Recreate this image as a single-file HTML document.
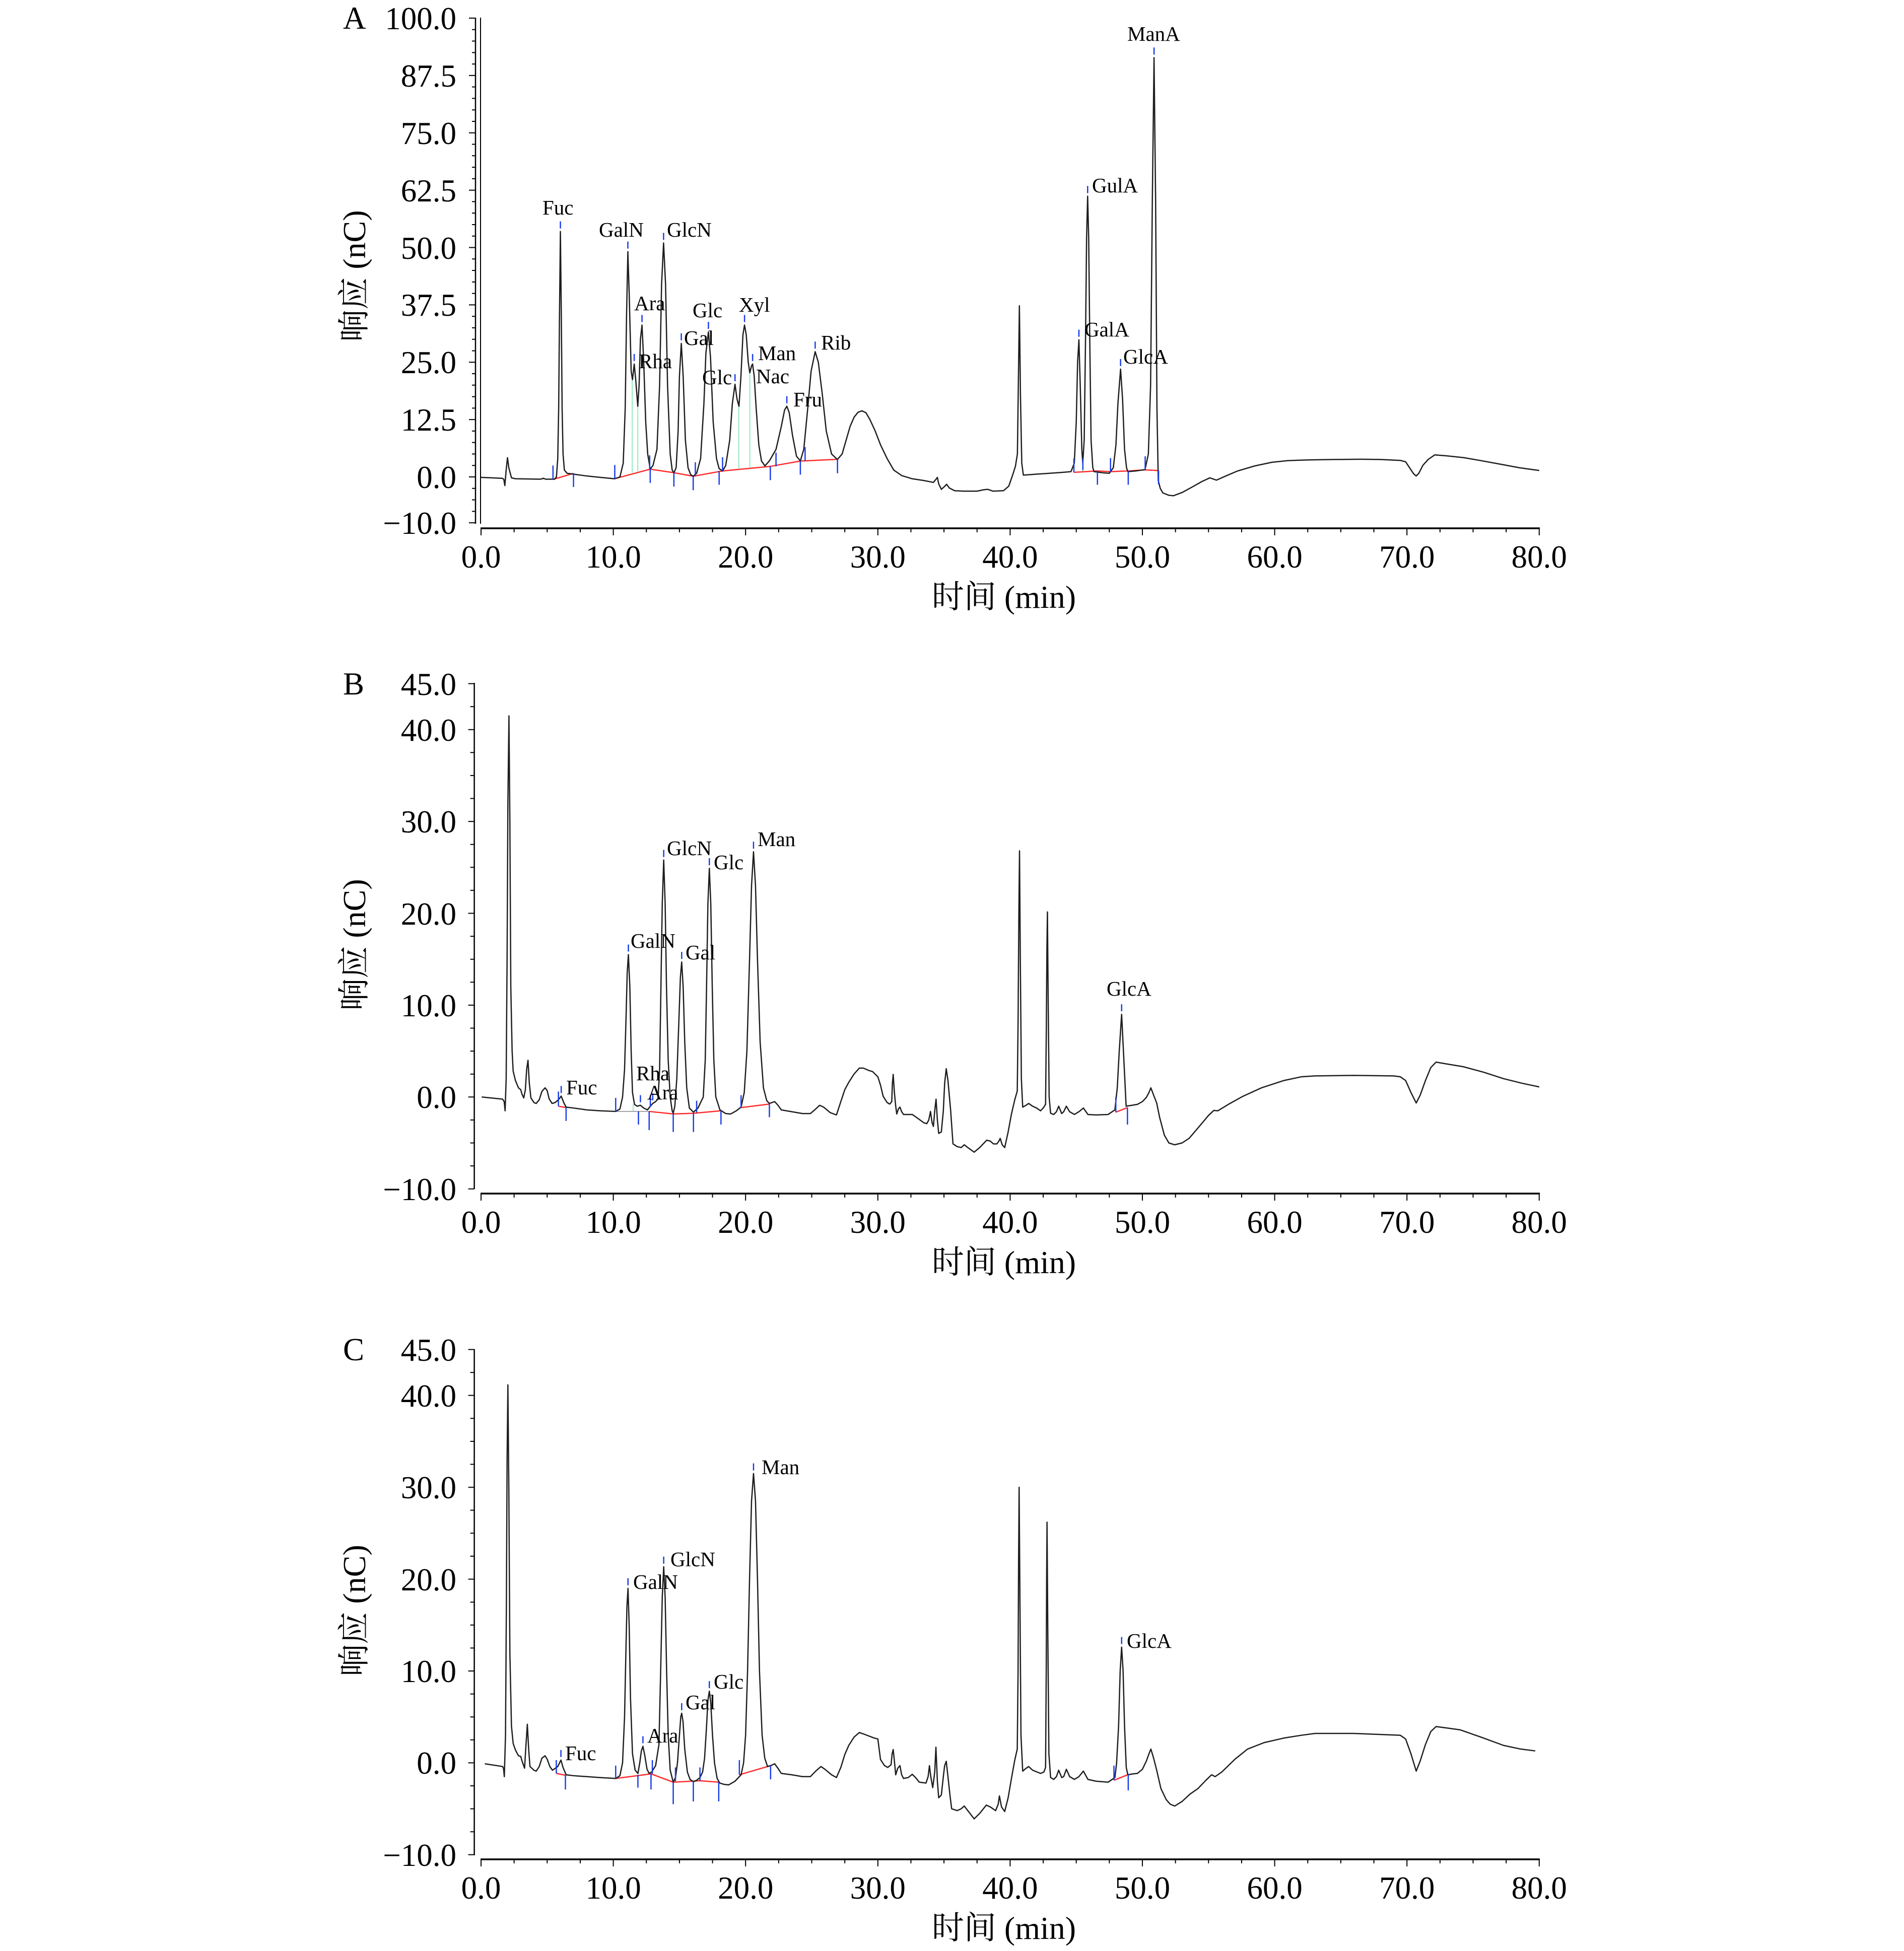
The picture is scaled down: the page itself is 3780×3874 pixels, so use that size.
<!DOCTYPE html>
<html><head><meta charset="utf-8"><style>
html,body{margin:0;padding:0;background:#fff;}
svg{display:block;}
text{font-family:"Liberation Serif","Noto Serif CJK SC",serif;fill:#000;}
.tk{font-size:63px;}
.lb{font-size:41px;}
.ttl{font-size:64px;}
.tr{fill:none;stroke:#1e1e1e;stroke-width:2.5;stroke-linejoin:round;}
.ax{fill:none;stroke:#000;stroke-width:2.5;}
.rd{fill:none;stroke:#ff2a2a;stroke-width:2.5;}
.bl{fill:none;stroke:#1a3ce8;stroke-width:2.5;}
.gr{fill:none;stroke:#86eabb;stroke-width:1.8;}
</style></head><body>
<svg width="3780" height="3874" viewBox="0 0 3780 3874" xmlns="http://www.w3.org/2000/svg">
<rect width="3780" height="3874" fill="#fff"/>

<!-- ================= PANEL A ================= -->
<line x1="944" y1="35" x2="944" y2="1040" class="ax"/>
<line x1="954" y1="35" x2="954" y2="1040" class="ax" style="stroke-width:2"/>
<g transform="translate(944,947) scale(1,-9.11)">
<path class="ax" vector-effect="non-scaling-stroke" style="stroke-width:2" d="M0 100H-13M0 87.5H-13M0 75H-13M0 62.5H-13M0 50H-13M0 37.5H-13M0 25H-13M0 12.5H-13M0 0H-13M0 -10H-13
M0 97.5H-7M0 95H-7M0 92.5H-7M0 90H-7M0 85H-7M0 82.5H-7M0 80H-7M0 77.5H-7M0 72.5H-7M0 70H-7M0 67.5H-7M0 65H-7M0 60H-7M0 57.5H-7M0 55H-7M0 52.5H-7M0 47.5H-7M0 45H-7M0 42.5H-7M0 40H-7M0 35H-7M0 32.5H-7M0 30H-7M0 27.5H-7M0 22.5H-7M0 20H-7M0 17.5H-7M0 15H-7M0 10H-7M0 7.5H-7M0 5H-7M0 2.5H-7M0 -2.5H-7M0 -5H-7M0 -7.5H-7"/>
</g>
<line x1="954" y1="1049" x2="3057" y2="1049" class="ax" style="stroke-width:3.5"/>
<g transform="translate(955,1049) scale(26.26,1)">
<path class="ax" vector-effect="non-scaling-stroke" style="stroke-width:2" d="M0 0V14M2.5 0V8M5 0V8M7.5 0V8M10 0V14M12.5 0V8M15 0V8M17.5 0V8M20 0V14M22.5 0V8M25 0V8M27.5 0V8M30 0V14M32.5 0V8M35 0V8M37.5 0V8M40 0V14M42.5 0V8M45 0V8M47.5 0V8M50 0V14M52.5 0V8M55 0V8M57.5 0V8M60 0V14M62.5 0V8M65 0V8M67.5 0V8M70 0V14M72.5 0V8M75 0V8M77.5 0V8M80 0V14"/>
</g>
<g class="tk" text-anchor="end">
<text x="906" y="58">100.0</text><text x="906" y="172">87.5</text><text x="906" y="286">75.0</text><text x="906" y="400">62.5</text><text x="906" y="514">50.0</text><text x="906" y="627">37.5</text><text x="906" y="741">25.0</text><text x="906" y="855">12.5</text><text x="906" y="969">0.0</text><text x="906" y="1060">−10.0</text>
</g>
<g class="tk" text-anchor="middle">
<text x="955" y="1127">0.0</text><text x="1217.6" y="1127">10.0</text><text x="1480.2" y="1127">20.0</text><text x="1742.8" y="1127">30.0</text><text x="2005.4" y="1127">40.0</text><text x="2268" y="1127">50.0</text><text x="2530.6" y="1127">60.0</text><text x="2793.2" y="1127">70.0</text><text x="3055.8" y="1127">80.0</text>
</g>
<text class="tk" x="681" y="57">A</text>
<text class="ttl" x="1993" y="1207" text-anchor="middle">时间 (min)</text>
<text class="ttl" transform="translate(725,548) rotate(-90)" text-anchor="middle">响应 (nC)</text>

<g transform="translate(955,947) scale(26.26,-9.11)">
<g class="gr">
<line vector-effect="non-scaling-stroke" x1="11.43" y1="21.2" x2="11.43" y2="0.9"/>
<line vector-effect="non-scaling-stroke" x1="11.85" y1="15.4" x2="11.85" y2="1.2"/>
<line vector-effect="non-scaling-stroke" x1="19.49" y1="15.4" x2="19.49" y2="1.8"/>
<line vector-effect="non-scaling-stroke" x1="20.32" y1="22.7" x2="20.32" y2="2.0"/>
<line vector-effect="non-scaling-stroke" x1="45.49" y1="3.1" x2="45.49" y2="1.1"/>
</g>
<polyline class="rd" vector-effect="non-scaling-stroke" points="5.44,-0.55 6.99,0.77"/>
<polyline class="rd" vector-effect="non-scaling-stroke" points="10.11,-0.38 12.79,1.69 14.58,0.92 16.04,0.15 18.26,1.3 21.87,2.3 24.14,3.46 26.95,3.84"/>
<polyline class="rd" vector-effect="non-scaling-stroke" points="44.82,1.0 46.6,1.3 47.59,1.15 48.93,1.3 50.21,1.54 51.22,1.38"/>
<polyline class="tr" vector-effect="non-scaling-stroke" points="0,-0.1 1.6,-0.3 1.72,-0.5 1.8,-1.9 1.9,1.5 2.0,4.2 2.1,2.0 2.3,-0.2 2.6,-0.4 4.5,-0.5 4.7,-0.3 4.9,-0.5 5.55,-0.5 5.7,0 5.8,4 5.87,15 5.93,35 6.0,53.5 6.07,35 6.13,15 6.2,5 6.3,1.5 6.5,0.8 7,0.6 8,0.2 9,-0.1 10.1,-0.4 10.5,0 10.75,3 10.9,15 11.0,35 11.1,49.1 11.2,40 11.35,23 11.45,21.2 11.58,24.6 11.7,21 11.85,15.4 11.95,20 12.05,30 12.17,33.1 12.3,25 12.45,12 12.6,5 12.79,1.7 13.0,2.5 13.3,6 13.5,20 13.65,42 13.8,51 13.95,42 14.1,20 14.3,5 14.45,1.5 14.58,0.9 14.75,2 14.9,10 15.0,22 15.14,29.1 15.28,22 15.45,8 15.65,2 15.85,0.5 16.04,0.15 16.3,0.8 16.6,4 16.85,16 17.0,27 17.19,31.6 17.35,26 17.55,12 17.8,4 18.0,1.8 18.26,1.3 18.5,2.5 18.8,8 19.0,16 19.2,20.2 19.35,17 19.5,15.4 19.65,22 19.8,31 19.92,33.1 20.05,31 20.2,25 20.32,22.7 20.45,24.2 20.53,24.6 20.65,22 20.8,15 21.0,7 21.2,3.5 21.46,2.4 21.8,3.5 22.3,6 22.7,11 22.95,14.6 23.12,15.4 23.3,14 23.55,9 23.85,4.5 24.14,3.5 24.4,6 24.7,15 24.95,23 25.26,27.3 25.5,25 25.8,18 26.1,10 26.5,5 26.94,3.8 27.3,5 27.6,8 27.9,11 28.2,13 28.5,14.1 28.8,14.4 29.1,14 29.4,12.5 29.8,10 30.2,7 30.7,4 31.2,1.5 31.8,0.3 32.6,-0.4 33.5,-0.8 34.2,-1.2 34.4,-0.5 34.5,-0.1 34.6,-1.5 34.8,-2.7 35.0,-2.2 35.2,-1.6 35.4,-2.4 35.8,-3.0 36.5,-3.1 37.5,-3.1 38.0,-2.8 38.3,-2.7 38.7,-3.1 39.5,-3.0 39.9,-2.0 40.2,0.5 40.4,2.3 40.55,5 40.62,20 40.7,37.3 40.78,18 40.88,3 41.0,0.4 42,0.6 43,0.8 44,1.0 44.6,1.15 44.85,3 45.0,12 45.1,25 45.2,29.9 45.3,20 45.42,6 45.49,3.1 45.6,8 45.7,30 45.78,52 45.86,61.2 45.94,52 46.02,30 46.12,8 46.25,2 46.35,1.15 47.0,0.9 47.5,0.8 47.8,2 48.0,7 48.15,16 48.35,23.5 48.5,17 48.65,6 48.8,2 48.9,1.15 49.5,1.3 50.2,1.6 50.45,5 50.62,20 50.75,60 50.88,91.4 51.0,60 51.1,15 51.2,-0.8 51.35,-2.5 51.55,-3.5 52.0,-4.0 52.35,-4.1 53.0,-3.4 53.7,-2.3 54.5,-1.0 55.1,-0.2 55.4,-0.5 55.6,-0.7 56.3,0.2 57.2,1.3 58.5,2.4 59.8,3.2 61,3.55 62.5,3.7 64.5,3.8 66.5,3.85 68,3.8 69.5,3.6 69.9,3.3 70.2,2 70.5,0.7 70.7,0.2 70.9,0.8 71.2,2.5 71.6,3.8 72.1,4.8 73,4.6 74.3,4.2 75.5,3.6 77.2,2.7 78.5,2.0 80,1.4"/>
<path class="bl" vector-effect="non-scaling-stroke" d="M6.0 54.16V55.7M11.1 49.76V51.3M11.58 25.26V26.8M12.17 33.76V35.3M13.8 51.66V53.2M15.14 29.76V31.3M17.19 32.26V33.8M19.2 20.86V22.4M19.92 33.76V35.3M20.53 25.26V26.8M23.12 16.06V17.6M25.26 27.96V29.5M45.2 30.56V32.1M45.86 61.86V63.4M48.35 24.16V25.7M50.88 92.06V93.6
M5.44 -0.5V2.5M6.99 0.8V-2.2M10.11 -0.4V2.6M12.79 1.7V-1.3M12.75 1.7V4.7M14.58 0.9V-2.1M16.04 0.1V-2.9M16.2 0.2V3.2M18.26 1.3V4.3M18.0 1.3V-1.7M21.87 2.3V-0.7M22.3 2.3V5.3M24.14 3.5V0.5M24.5 3.5V6.5M26.95 3.8V0.8M44.82 1.0V4.0M46.6 1.3V-1.7M47.59 1.1V4.1M48.93 1.3V-1.7M50.21 1.5V4.5M51.22 1.4V-1.6M45.5 1.5V4.0"/>
</g>
<g class="lb">
<text x="1077" y="426">Fuc</text><text x="1189" y="470">GalN</text><text x="1324" y="470">GlcN</text><text x="1259" y="616">Ara</text><text x="1268" y="731">Rha</text><text x="1375" y="630">Glc</text><text x="1358" y="685">Gal</text><text x="1394" y="763">Glc</text><text x="1467" y="619">Xyl</text><text x="1505" y="715">Man</text><text x="1501" y="761">Nac</text><text x="1575" y="807">Fru</text><text x="1630" y="694">Rib</text><text x="2238" y="81">ManA</text><text x="2168" y="382">GulA</text><text x="2153" y="668">GalA</text><text x="2230" y="722">GlcA</text>
</g>

<!-- ================= PANEL B ================= -->
<line x1="941.6" y1="1356" x2="941.6" y2="2361" class="ax"/>
<g transform="translate(941.6,2178.3) scale(1,-18.24)">
<path class="ax" vector-effect="non-scaling-stroke" style="stroke-width:2" d="M0 45H-12M0 40H-12M0 30H-12M0 20H-12M0 10H-12M0 0H-12M0 -10H-12M0 42.5H-8M0 37.5H-8M0 35H-8M0 32.5H-8M0 27.5H-8M0 25H-8M0 22.5H-8M0 17.5H-8M0 15H-8M0 12.5H-8M0 7.5H-8M0 5H-8M0 2.5H-8M0 -2.5H-8M0 -5H-8M0 -7.5H-8"/>
</g>
<line x1="954" y1="2370" x2="3057" y2="2370" class="ax" style="stroke-width:3.5"/>
<g transform="translate(955,2370) scale(26.26,1)">
<path class="ax" vector-effect="non-scaling-stroke" style="stroke-width:2" d="M0 0V14M2.5 0V8M5 0V8M7.5 0V8M10 0V14M12.5 0V8M15 0V8M17.5 0V8M20 0V14M22.5 0V8M25 0V8M27.5 0V8M30 0V14M32.5 0V8M35 0V8M37.5 0V8M40 0V14M42.5 0V8M45 0V8M47.5 0V8M50 0V14M52.5 0V8M55 0V8M57.5 0V8M60 0V14M62.5 0V8M65 0V8M67.5 0V8M70 0V14M72.5 0V8M75 0V8M77.5 0V8M80 0V14"/>
</g>
<g class="tk" text-anchor="end">
<text x="906" y="1380">45.0</text><text x="906" y="1471">40.0</text><text x="906" y="1653">30.0</text><text x="906" y="1836">20.0</text><text x="906" y="2018">10.0</text><text x="906" y="2200">0.0</text><text x="906" y="2383">−10.0</text>
</g>
<g class="tk" text-anchor="middle">
<text x="955" y="2448">0.0</text><text x="1217.6" y="2448">10.0</text><text x="1480.2" y="2448">20.0</text><text x="1742.8" y="2448">30.0</text><text x="2005.4" y="2448">40.0</text><text x="2268" y="2448">50.0</text><text x="2530.6" y="2448">60.0</text><text x="2793.2" y="2448">70.0</text><text x="3055.8" y="2448">80.0</text>
</g>
<text class="tk" x="681" y="1379">B</text>
<text class="ttl" x="1993" y="2528" text-anchor="middle">时间 (min)</text>
<text class="ttl" transform="translate(725,1876) rotate(-90)" text-anchor="middle">响应 (nC)</text>

<g transform="translate(955,2178.3) scale(26.26,-18.24)">
<line class="gr" vector-effect="non-scaling-stroke" x1="11.5" y1="-0.8" x2="11.5" y2="-1.57"/>
<polyline vector-effect="non-scaling-stroke" points="10.18,-1.57 12.71,-1.57" style="fill:none;stroke:#888;stroke-width:1.5"/>
<polyline class="rd" vector-effect="non-scaling-stroke" points="5.85,-1.0 6.43,-1.15"/>
<polyline class="rd" vector-effect="non-scaling-stroke" points="12.71,-1.57 14.53,-1.84 16.06,-1.77 18.14,-1.5"/>
<polyline class="rd" vector-effect="non-scaling-stroke" points="19.66,-1.15 21.8,-0.77"/>
<polyline class="rd" vector-effect="non-scaling-stroke" points="47.99,-1.65 48.87,-1.15"/>
<polyline class="tr" vector-effect="non-scaling-stroke" points="0.05,0.0 1.63,-0.23 1.75,-0.5 1.82,-1.5 1.9,2 1.97,15 2.03,32 2.11,41.5 2.18,30 2.25,12 2.35,5 2.43,2.8 2.6,1.8 2.83,1.0 3.0,0.8 3.1,0.3 3.23,-0.1 3.35,0.8 3.45,3 3.55,4.0 3.65,1.5 3.77,-0.1 4.0,-0.6 4.17,-0.7 4.4,-0.3 4.6,0.6 4.84,1.0 5.0,0.7 5.15,-0.2 5.37,-0.7 5.6,-0.6 5.85,-0.3 6.06,0.1 6.25,-0.6 6.43,-1.1 7,-1.2 8,-1.4 9,-1.5 10.18,-1.57 10.5,-1.3 10.7,0 10.85,3 10.97,9 11.05,13.5 11.14,15.5 11.25,12 11.35,5 11.45,0.5 11.6,-0.8 11.8,-1.0 12.05,-0.9 12.3,-1.2 12.58,-1.4 12.8,-1.0 12.98,-0.7 13.2,-0.5 13.38,-0.2 13.5,3 13.6,12 13.7,21 13.81,25.8 13.92,21 14.02,12 14.15,4 14.3,0 14.45,-1.5 14.53,-1.77 14.65,-1.0 14.8,2 14.95,8 15.07,13 15.17,14.7 15.28,12 15.4,6 15.55,1 15.75,-1.2 16.06,-1.65 16.4,-1.2 16.8,0.0 16.95,4 17.05,12 17.15,21 17.26,24.9 17.37,21 17.48,12 17.6,4 17.75,0 18.06,-1.4 18.5,-1.8 18.86,-1.85 19.3,-1.5 19.66,-1.1 19.9,0.5 20.1,5 20.3,15 20.45,23 20.6,26.7 20.75,23 20.9,15 21.1,6 21.35,1 21.6,-0.4 21.8,-0.7 22.2,-0.5 22.45,-0.9 22.7,-1.4 23.5,-1.6 24.3,-1.8 24.9,-1.8 25.3,-1.3 25.6,-0.9 25.9,-1.1 26.4,-1.7 26.87,-1.95 27.2,-0.5 27.5,0.8 27.8,1.6 28.2,2.5 28.6,3.15 28.9,3.15 29.3,2.9 29.6,2.77 30.0,2.2 30.2,1.3 30.4,0.08 30.7,-0.6 30.9,-0.77 31.05,-0.5 31.1,1.5 31.16,2.46 31.25,0.5 31.35,-1.0 31.43,-1.85 31.55,-1.3 31.67,-1.1 31.8,-1.6 31.94,-1.9 32.6,-1.9 33.0,-2.3 33.47,-2.8 33.7,-2.9 33.85,-2.5 33.98,-1.57 34.1,-2.8 34.2,-3.2 34.3,-1.5 34.4,-0.23 34.5,-2.5 34.6,-3.96 34.8,-3.8 34.95,-1.5 35.05,1.5 35.17,3.08 35.3,1.8 35.5,-1.4 35.68,-5.1 36.0,-5.4 36.3,-5.5 36.53,-5.2 36.8,-5.5 37.28,-6.0 37.7,-5.5 38.23,-4.7 38.5,-4.8 38.74,-5.1 39.0,-5.1 39.15,-4.8 39.25,-4.5 39.4,-5.2 39.59,-5.5 39.85,-3.8 40.1,-1.85 40.35,-0.3 40.54,0.65 40.6,8 40.66,20 40.71,26.8 40.77,15 40.85,2 40.95,-1.1 41.2,-0.9 41.4,-0.7 41.7,-1.0 42.0,-1.2 42.3,-1.5 42.5,-1.2 42.68,-0.8 42.74,8 42.78,16 42.82,20.15 42.88,10 42.95,0 43.06,-1.77 43.3,-1.9 43.5,-1.6 43.67,-1.0 43.9,-1.8 44.05,-1.6 44.25,-1.0 44.5,-1.6 44.86,-1.9 45.2,-1.6 45.54,-1.2 45.88,-1.9 46.5,-1.95 47.41,-1.9 47.92,-1.4 48.1,1 48.25,5 48.43,9.0 48.6,4 48.77,-1.0 49.2,-0.9 49.62,-0.8 50.0,-0.5 50.3,-0.04 50.5,0.5 50.64,1.0 50.85,0.2 51.08,-0.65 51.3,-2.2 51.66,-4.15 52.0,-5.0 52.44,-5.2 53.0,-5.0 53.53,-4.5 54.3,-3.2 55.0,-2.0 55.4,-1.46 55.7,-1.5 56.5,-0.8 57.6,0.08 59.0,1.0 60.7,1.8 62.0,2.2 63.05,2.3 66,2.35 69,2.3 69.5,2.2 69.9,1.8 70.3,0.5 70.7,-0.65 71.0,0.2 71.4,1.8 71.8,3.2 72.2,3.8 73.0,3.6 74.26,3.3 75.8,2.7 77.3,2.0 78.7,1.5 80,1.1"/>
<path class="bl" vector-effect="non-scaling-stroke" d="M6.06 0.43V1.2M11.14 15.83V16.6M12.05 -0.57V0.2M12.98 -0.37V0.4M13.81 26.13V26.9M15.17 15.03V15.8M17.26 25.23V26.0M20.6 27.03V27.8M48.43 9.33V10.1
M5.85 -1.0V0.6M6.43 -1.15V-2.6M10.18 -1.57V-0.1M11.9 -1.57V-3.0M12.71 -1.57V-3.6M12.8 -1.1V0.2M14.53 -1.8V-3.8M16.06 -1.77V-3.8M16.3 -1.7V-0.4M18.14 -1.5V-3.0M19.66 -1.15V0.2M21.8 -0.77V-2.2M47.99 -1.65V0M48.87 -1.15V-3.0"/>
</g>
<g class="lb">
<text x="1124" y="2173">Fuc</text><text x="1252" y="1882">GalN</text><text x="1263" y="2145">Rha</text><text x="1285" y="2183">Ara</text><text x="1324" y="1698">GlcN</text><text x="1417" y="1726">Glc</text><text x="1361" y="1905">Gal</text><text x="1504" y="1680">Man</text><text x="2197" y="1977">GlcA</text>
</g>

<!-- ================= PANEL C ================= -->
<line x1="941.6" y1="2679" x2="941.6" y2="3684" class="ax"/>
<g transform="translate(941.6,3500.4) scale(1,-18.24)">
<path class="ax" vector-effect="non-scaling-stroke" style="stroke-width:2" d="M0 45H-12M0 40H-12M0 30H-12M0 20H-12M0 10H-12M0 0H-12M0 -10H-12M0 42.5H-8M0 37.5H-8M0 35H-8M0 32.5H-8M0 27.5H-8M0 25H-8M0 22.5H-8M0 17.5H-8M0 15H-8M0 12.5H-8M0 7.5H-8M0 5H-8M0 2.5H-8M0 -2.5H-8M0 -5H-8M0 -7.5H-8"/>
</g>
<line x1="954" y1="3692" x2="3057" y2="3692" class="ax" style="stroke-width:3.5"/>
<g transform="translate(955,3692) scale(26.26,1)">
<path class="ax" vector-effect="non-scaling-stroke" style="stroke-width:2" d="M0 0V14M2.5 0V8M5 0V8M7.5 0V8M10 0V14M12.5 0V8M15 0V8M17.5 0V8M20 0V14M22.5 0V8M25 0V8M27.5 0V8M30 0V14M32.5 0V8M35 0V8M37.5 0V8M40 0V14M42.5 0V8M45 0V8M47.5 0V8M50 0V14M52.5 0V8M55 0V8M57.5 0V8M60 0V14M62.5 0V8M65 0V8M67.5 0V8M70 0V14M72.5 0V8M75 0V8M77.5 0V8M80 0V14"/>
</g>
<g class="tk" text-anchor="end">
<text x="906" y="2702">45.0</text><text x="906" y="2793">40.0</text><text x="906" y="2975">30.0</text><text x="906" y="3158">20.0</text><text x="906" y="3340">10.0</text><text x="906" y="3522">0.0</text><text x="906" y="3705">−10.0</text>
</g>
<g class="tk" text-anchor="middle">
<text x="955" y="3770">0.0</text><text x="1217.6" y="3770">10.0</text><text x="1480.2" y="3770">20.0</text><text x="1742.8" y="3770">30.0</text><text x="2005.4" y="3770">40.0</text><text x="2268" y="3770">50.0</text><text x="2530.6" y="3770">60.0</text><text x="2793.2" y="3770">70.0</text><text x="3055.8" y="3770">80.0</text>
</g>
<text class="tk" x="681" y="2701">C</text>
<text class="ttl" x="1993" y="3850" text-anchor="middle">时间 (min)</text>
<text class="ttl" transform="translate(725,3198) rotate(-90)" text-anchor="middle">响应 (nC)</text>

<g transform="translate(955,3500.4) scale(26.26,-18.24)">
<polyline class="rd" vector-effect="non-scaling-stroke" points="5.69,-1.15 6.38,-1.35"/>
<polyline class="rd" vector-effect="non-scaling-stroke" points="10.18,-1.7 12.85,-1.2 14.53,-2.1 16.55,-1.95 17.97,-2.1"/>
<polyline class="rd" vector-effect="non-scaling-stroke" points="19.53,-1.3 21.89,-0.3"/>
<polyline class="rd" vector-effect="non-scaling-stroke" points="47.85,-1.9 48.93,-1.27"/>
<polyline class="tr" vector-effect="non-scaling-stroke" points="0.29,-0.1 1.63,-0.4 1.7,-0.6 1.76,-1.5 1.85,3 1.92,18 1.97,33 2.03,41.15 2.1,30 2.18,12 2.3,4 2.43,2.1 2.6,1.4 2.83,0.77 3.0,0.7 3.1,0.2 3.29,-0.58 3.4,2 3.5,4.2 3.6,1.5 3.7,-0.4 4.0,-0.8 4.17,-0.9 4.4,-0.4 4.6,0.5 4.84,0.77 5.0,0.4 5.2,-0.4 5.4,-0.8 5.8,-0.4 6.04,0.3 6.2,-0.5 6.43,-1.3 7,-1.4 8,-1.5 9,-1.6 10.18,-1.7 10.5,-1.4 10.7,0 10.85,5 10.95,12 11.03,17 11.11,19.0 11.2,15 11.3,7 11.45,1 11.65,-0.8 11.86,-1.15 12.0,0 12.12,1.3 12.24,1.8 12.38,0.8 12.55,-0.7 12.71,-1.15 12.9,-1.0 13.2,-0.3 13.45,2 13.58,10 13.7,18 13.81,21.35 13.92,18 14.03,10 14.15,3 14.3,-0.8 14.53,-2.1 14.7,-1.6 14.85,0 15.0,3 15.1,5 15.17,5.4 15.27,4.5 15.4,1.5 15.6,-1.0 15.8,-1.8 16.05,-2.05 16.3,-1.9 16.55,-1.6 16.75,-1.0 16.9,0.5 17.05,4 17.15,6.8 17.26,7.8 17.37,6.5 17.5,3 17.65,0 17.85,-1.7 18.05,-2.2 18.4,-2.35 18.72,-2.4 19.2,-2.0 19.66,-1.3 19.85,0 20.0,3 20.15,10 20.3,20 20.45,28.5 20.6,31.5 20.75,28.5 20.9,20 21.05,10 21.25,3 21.45,0.5 21.66,-0.4 21.9,-0.3 22.2,-0.1 22.45,-0.6 22.7,-1.15 23.5,-1.3 24.3,-1.5 24.9,-1.5 25.3,-0.9 25.7,-0.4 26.0,-0.7 26.5,-1.3 26.87,-1.6 27.2,-0.5 27.5,0.9 27.8,1.9 28.2,2.8 28.6,3.3 29.0,3.1 29.73,2.7 30.0,2.6 30.2,0.36 30.5,-0.3 30.75,-0.5 31.0,-0.2 31.08,1.0 31.16,1.45 31.25,0.2 31.35,-1.3 31.5,-0.6 31.67,-0.3 31.8,-1.3 31.94,-1.7 32.3,-1.6 32.6,-1.25 32.85,-1.6 33.13,-2.1 33.64,-2.2 33.8,-1.5 33.9,-0.3 34.0,-1.5 34.15,-2.7 34.3,-1.0 34.39,1.7 34.5,-2.0 34.6,-3.8 34.8,-3.5 34.95,-1.5 35.05,-0.3 35.17,0.17 35.3,-1.5 35.45,-3.5 35.58,-5.0 36.0,-5.2 36.3,-5.0 36.53,-4.7 36.8,-5.2 37.28,-6.1 37.7,-5.5 38.2,-4.6 38.5,-4.8 38.9,-5.2 39.1,-4.5 39.19,-3.6 39.35,-4.8 39.59,-5.3 39.85,-3.8 40.1,-1.7 40.35,0.3 40.54,1.5 40.6,10 40.64,22 40.68,30.0 40.74,18 40.82,3 40.95,-0.9 41.2,-0.6 41.4,-0.4 41.7,-0.8 42.3,-1.15 42.55,-1.0 42.68,-0.5 42.73,10 42.76,20 42.79,26.2 42.85,14 42.93,1 43.06,-1.6 43.3,-1.8 43.5,-1.5 43.67,-0.8 43.9,-1.6 44.05,-1.5 44.25,-0.7 44.5,-1.5 44.86,-1.8 45.2,-1.5 45.54,-0.9 45.88,-1.8 46.5,-2.0 47.41,-2.1 47.92,-1.6 48.05,0 48.2,4 48.32,10 48.43,12.6 48.54,10 48.65,4 48.78,-0.5 48.9,-1.3 49.3,-1.2 49.62,-1.15 50.0,-0.7 50.3,0.2 50.5,1.0 50.64,1.5 50.85,0.5 51.08,-0.8 51.4,-2.8 51.8,-4.0 52.1,-4.5 52.44,-4.7 53.0,-4.2 53.6,-3.4 54.2,-2.8 54.8,-1.9 55.23,-1.3 55.5,-1.5 56.0,-1.0 57.0,0.4 57.95,1.5 59.2,2.2 60.7,2.7 62,3.0 63.05,3.2 66,3.2 69.5,3.0 69.9,2.6 70.3,1.0 70.7,-0.9 71.0,0.2 71.4,2.0 71.8,3.4 72.2,3.95 73.0,3.8 74,3.6 75.6,2.8 77.3,1.9 78.6,1.5 79.7,1.3"/>
<path class="bl" vector-effect="non-scaling-stroke" d="M6.04 0.63V1.4M11.11 19.33V20.1M12.24 2.13V2.9M13.81 21.68V22.45M15.17 5.73V6.5M17.26 8.13V8.9M20.6 31.83V32.6M48.43 12.93V13.7
M5.69 -1.15V0.3M6.38 -1.35V-2.9M10.18 -1.7V-0.3M11.86 -1.3V-2.7M12.85 -1.2V-2.9M12.95 -1.2V0.3M14.53 -2.1V-4.5M14.7 -2.0V-0.5M16.05 -2.0V-4.2M16.55 -1.95V-0.5M17.97 -2.1V-4.2M19.53 -1.3V0.3M21.89 -0.3V-1.8M47.85 -1.9V-0.3M48.93 -1.27V-3.0"/>
</g>
<g class="lb">
<text x="1122" y="3495">Fuc</text><text x="1257" y="3155">GalN</text><text x="1331" y="3110">GlcN</text><text x="1285" y="3460">Ara</text><text x="1361" y="3394">Gal</text><text x="1417" y="3353">Glc</text><text x="1512" y="2927">Man</text><text x="2237" y="3272">GlcA</text>
</g>
</svg>
</body></html>
